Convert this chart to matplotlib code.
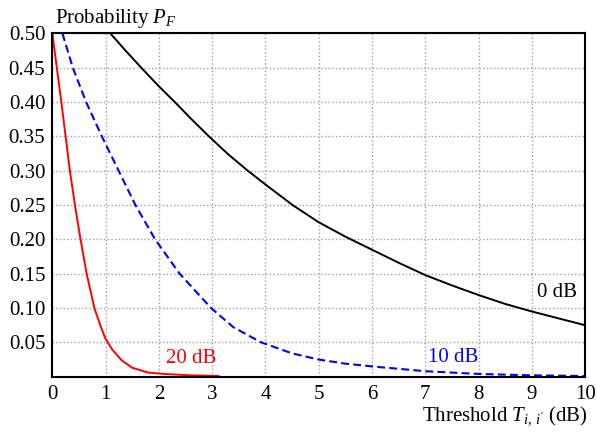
import matplotlib
matplotlib.use("Agg")
import matplotlib.pyplot as plt
import numpy as np

# serif look like the original (Times-ish)
plt.rcParams['font.family'] = ['Liberation Serif', 'DejaVu Serif']
plt.rcParams['mathtext.fontset'] = 'custom'
plt.rcParams['mathtext.rm'] = 'Liberation Serif'
plt.rcParams['mathtext.it'] = 'Liberation Serif:italic'

# values
x_0db = [1.09, 1.35, 1.67, 2.0, 2.3, 2.6, 2.94, 3.3, 3.67, 4.0, 4.51, 5.0, 5.5, 6.0, 6.5, 7.0, 7.5, 8.0, 8.5, 9.0, 9.5, 10.0]
p_0db = [0.50, 0.477, 0.45, 0.423, 0.40, 0.376, 0.35, 0.324, 0.30, 0.280, 0.25, 0.225, 0.204, 0.185, 0.166, 0.148, 0.133, 0.119, 0.106, 0.095, 0.085, 0.075]

x_10db = [0.19, 0.385, 0.635, 0.93, 1.245, 1.56, 1.93, 2.39, 2.98, 3.4, 3.92, 4.5, 5.0, 5.5, 6.0, 7.0, 8.0, 9.0, 10.0]
p_10db = [0.50, 0.45, 0.40, 0.35, 0.30, 0.25, 0.20, 0.15, 0.10, 0.072, 0.05, 0.034, 0.025, 0.019, 0.015, 0.008, 0.004, 0.002, 0.001]

x_20db = [0.0, 0.085, 0.17, 0.25, 0.33, 0.425, 0.53, 0.645, 0.79, 0.9, 1.0, 1.13, 1.3, 1.5, 1.8, 2.1, 2.6, 3.12]
p_20db = [0.50, 0.45, 0.40, 0.35, 0.30, 0.25, 0.20, 0.15, 0.10, 0.075, 0.055, 0.039, 0.024, 0.013, 0.006, 0.004, 0.002, 0.001]

x_ticks = list(range(0, 11))
y_ticks = [0.05, 0.10, 0.15, 0.20, 0.25, 0.30, 0.35, 0.40, 0.45, 0.50]

fig = plt.figure(figsize=(5.97, 4.32), dpi=100)
ax = fig.add_axes([0.0876, 0.128, 0.8924, 0.7947])

# dotted grey grid behind the curves
ax.grid(True, color='#a0a0a0', linestyle=':', linewidth=1.0, zorder=0)

ax.plot(x_0db, p_0db, color='black', linewidth=1.4, zorder=3)
ax.plot(x_10db, p_10db, color='blue', linewidth=1.5, dashes=(3.8, 2.0), zorder=3)
ax.plot(x_20db, p_20db, color='red', linewidth=1.4, zorder=3)

# curve labels
ax.text(9.47, 0.122, '0 dB', color='black', fontsize=15, ha='center', va='center')
ax.text(7.52, 0.0285, '10 dB', color='blue', fontsize=15, ha='center', va='center')
ax.text(2.6, 0.027, '20 dB', color='red', fontsize=15, ha='center', va='center')

ax.set_xlim(0, 10)
ax.set_ylim(0, 0.5)
ax.set_xticks(x_ticks)
ax.set_xticklabels([str(v) for v in x_ticks])
ax.set_yticks(y_ticks)
ax.set_yticklabels(['%.2f' % v for v in y_ticks])
ax.tick_params(axis='x', length=0, labelsize=15, pad=6)
ax.tick_params(axis='y', length=0, labelsize=15, pad=5)

for s in ax.spines.values():
    s.set_linewidth(1.5)
    s.set_zorder(4)

fig.text(0.092, 0.958, 'Probability $P_F$', fontsize=15, ha='left', va='center')
fig.text(0.985, 0.028, "Threshold $T_{i,\\,i'}$ (dB)", fontsize=15, ha='right', va='baseline')

fig.savefig('out.png', dpi=100)
